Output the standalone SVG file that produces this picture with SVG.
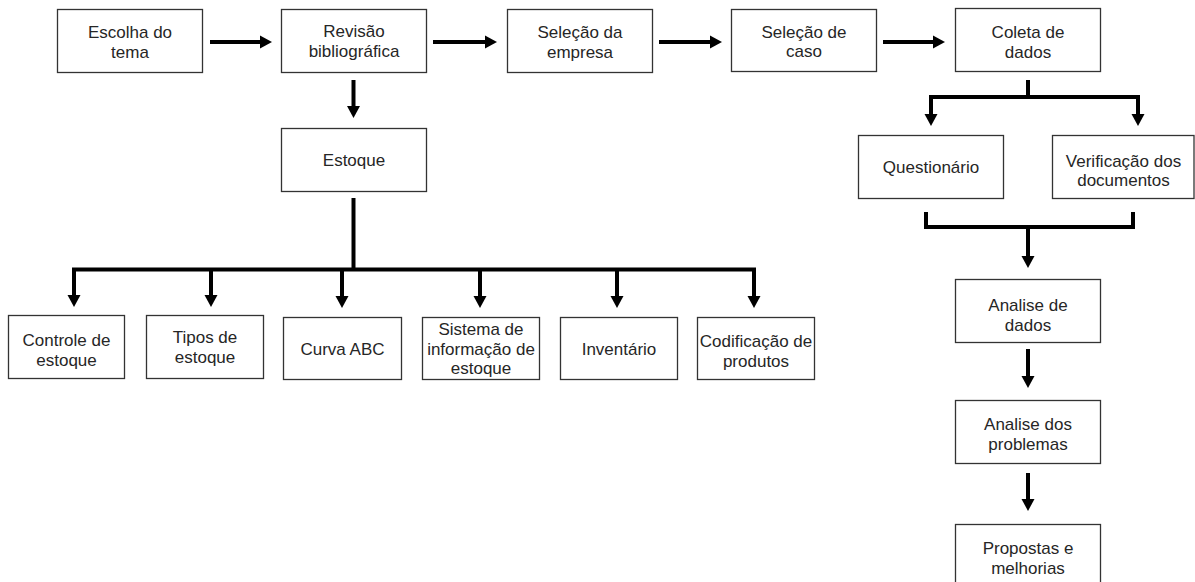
<svg xmlns="http://www.w3.org/2000/svg" width="1195" height="582" viewBox="0 0 1195 582">
<style>
.box{fill:#fff;stroke:#333;stroke-width:1.3}
.t{font-family:"Liberation Sans",Arial,sans-serif;font-size:17px;fill:#262626;text-anchor:middle}
.c{fill:none;stroke:#000;stroke-width:4}
</style>
<defs>
<marker id="ah" markerUnits="userSpaceOnUse" markerWidth="12" markerHeight="13" refX="0" refY="6.5" orient="auto" overflow="visible">
<path d="M0,0 L12,6.5 L0,13 Z" fill="#000"/>
</marker>
</defs>
<rect width="1195" height="582" fill="#fff"/>
<g id="connectors">
<path class="c" d="M210,42 H260" marker-end="url(#ah)"/>
<path class="c" d="M433,42 H485" marker-end="url(#ah)"/>
<path class="c" d="M659,42 H710" marker-end="url(#ah)"/>
<path class="c" d="M883,42 H933" marker-end="url(#ah)"/>
<path class="c" d="M353.5,80 V106" marker-end="url(#ah)"/>
<path class="c" d="M353.5,198 V269.5"/>
<path class="c" d="M72,269.5 H756"/>
<path class="c" d="M74,268 V295" marker-end="url(#ah)"/>
<path class="c" d="M211,268 V295" marker-end="url(#ah)"/>
<path class="c" d="M342,268 V296" marker-end="url(#ah)"/>
<path class="c" d="M480,268 V296" marker-end="url(#ah)"/>
<path class="c" d="M617,268 V296" marker-end="url(#ah)"/>
<path class="c" d="M754,268 V296" marker-end="url(#ah)"/>
<path class="c" d="M1028,80 V97"/>
<path class="c" d="M929,97 H1140"/>
<path class="c" d="M931,96 V114" marker-end="url(#ah)"/>
<path class="c" d="M1138,96 V114" marker-end="url(#ah)"/>
<path class="c" d="M926,212 V227 H1133 V212" stroke-linejoin="miter"/>
<path class="c" d="M1028,227 V256" marker-end="url(#ah)"/>
<path class="c" d="M1028,349 V376" marker-end="url(#ah)"/>
<path class="c" d="M1028,473 V499" marker-end="url(#ah)"/>
</g>
<g id="escolha"><rect class="box" x="57.5" y="9.5" width="145" height="63"/><text class="t" x="130" y="38">Escolha do</text><text class="t" x="130" y="57.5">tema</text></g>
<g id="revisao"><rect class="box" x="281.5" y="9.5" width="145" height="63"/><text class="t" x="354" y="37">Revisão</text><text class="t" x="354" y="56.5">bibliográfica</text></g>
<g id="selecao-empresa"><rect class="box" x="507.5" y="9.5" width="145" height="63"/><text class="t" x="580" y="38">Seleção da</text><text class="t" x="580" y="57.5">empresa</text></g>
<g id="selecao-caso"><rect class="box" x="731.5" y="9.5" width="145" height="62"/><text class="t" x="804" y="37.5">Seleção de</text><text class="t" x="804" y="57">caso</text></g>
<g id="coleta"><rect class="box" x="955.5" y="8.5" width="145" height="63"/><text class="t" x="1028" y="38">Coleta de</text><text class="t" x="1028" y="57.5">dados</text></g>
<g id="estoque"><rect class="box" x="281.5" y="128.5" width="145" height="63"/><text class="t" x="354" y="165.5">Estoque</text></g>
<g id="questionario"><rect class="box" x="858.5" y="135.5" width="145" height="63"/><text class="t" x="931" y="173">Questionário</text></g>
<g id="verificacao"><rect class="box" x="1052.5" y="135.5" width="141.5" height="63"/><text class="t" x="1123.5" y="166.5">Verificação dos</text><text class="t" x="1123.5" y="186">documentos</text></g>
<g id="analise-dados"><rect class="box" x="955.5" y="279.5" width="145" height="63"/><text class="t" x="1028" y="311">Analise de</text><text class="t" x="1028" y="330.5">dados</text></g>
<g id="analise-problemas"><rect class="box" x="955.5" y="400.5" width="145" height="63"/><text class="t" x="1028" y="430">Analise dos</text><text class="t" x="1028" y="449.5">problemas</text></g>
<g id="propostas"><rect class="box" x="955.5" y="524.5" width="145" height="63"/><text class="t" x="1028" y="554">Propostas e</text><text class="t" x="1028" y="573.5">melhorias</text></g>
<g id="controle"><rect class="box" x="8.5" y="315.5" width="116" height="63"/><text class="t" x="66.5" y="346">Controle de</text><text class="t" x="66.5" y="365.5">estoque</text></g>
<g id="tipos"><rect class="box" x="146.5" y="315.5" width="117" height="63"/><text class="t" x="205" y="343">Tipos de</text><text class="t" x="205" y="362.5">estoque</text></g>
<g id="curva"><rect class="box" x="283.5" y="317.5" width="118" height="62"/><text class="t" x="342.5" y="355">Curva ABC</text></g>
<g id="sistema"><rect class="box" x="422.5" y="317.5" width="117" height="62"/><text class="t" x="481" y="335">Sistema de</text><text class="t" x="481" y="354.5">informação de</text><text class="t" x="481" y="374">estoque</text></g>
<g id="inventario"><rect class="box" x="560.5" y="317.5" width="117" height="62"/><text class="t" x="619" y="355">Inventário</text></g>
<g id="codificacao"><rect class="box" x="697.5" y="317.5" width="117" height="62"/><text class="t" x="756" y="347">Codificação de</text><text class="t" x="756" y="366.5">produtos</text></g>
</svg>
